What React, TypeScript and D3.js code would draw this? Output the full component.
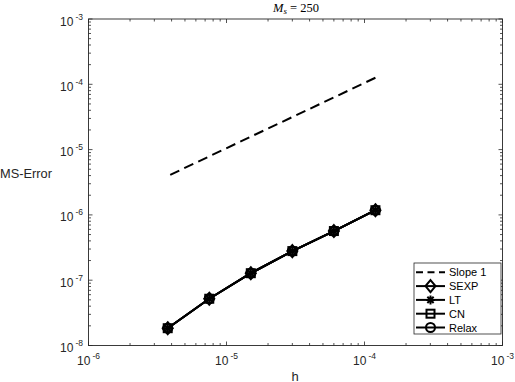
import React from 'react'
import * as d3 from 'd3'

// step sizes and errors
const hValues = [3.75e-6, 7.5e-6, 1.5e-5, 3.0e-5, 6.0e-5, 1.2e-4]
const slopeRef = [3.94e-6, 7.88e-6, 1.58e-5, 3.15e-5, 6.3e-5, 1.26e-4]
const errSEXP = [1.84e-8, 5.2e-8, 1.28e-7, 2.79e-7, 5.66e-7, 1.18e-6]
const errLT = [1.84e-8, 5.2e-8, 1.28e-7, 2.79e-7, 5.66e-7, 1.18e-6]
const errCN = [1.84e-8, 5.2e-8, 1.28e-7, 2.79e-7, 5.66e-7, 1.18e-6]
const errRelax = [1.84e-8, 5.2e-8, 1.28e-7, 2.79e-7, 5.66e-7, 1.18e-6]
const xTickExp = [-6, -5, -4, -3]
const yTickExp = [-8, -7, -6, -5, -4, -3]
const legendLabels = ['Slope 1', 'SEXP', 'LT', 'CN', 'Relax']

const W = 515
const H = 382
const axColor = '#262626'
const font = 'Liberation Sans, Arial, Helvetica, sans-serif'

const Marker = ({ type, x, y }: { type: string; x: number; y: number }) => {
  const s = 5
  const st = { fill: 'none', stroke: '#000', strokeWidth: 2 }
  if (type === 'diamond')
    return <path d={`M${x},${y - s - 1}L${x + s},${y}L${x},${y + s + 1}L${x - s},${y}Z`} {...st} />
  if (type === 'square') return <rect x={x - 4} y={y - 4} width={8} height={8} {...st} />
  if (type === 'circle') return <circle cx={x} cy={y} r={4.5} {...st} />
  // asterisk
  const a = 4.5
  return (
    <path
      d={`M${x - a},${y}L${x + a},${y}M${x},${y - a}L${x},${y + a}M${x - a * 0.7},${y - a * 0.7}L${x + a * 0.7},${y + a * 0.7}M${x - a * 0.7},${y + a * 0.7}L${x + a * 0.7},${y - a * 0.7}`}
      {...st}
    />
  )
}

const App = () => {
  const left = 88.5
  const right = 502.5
  const top = 19
  const bottom = 345.5

  const x = d3.scaleLog().domain([1e-6, 1e-3]).range([left, right])
  const y = d3.scaleLog().domain([1e-8, 1e-3]).range([bottom, top])

  const line = d3
    .line<number>()
    .x((_, i) => x(hValues[i]))
    .y((d) => y(d))

  // slope line drawn from large h to small h so the dash pattern starts at the right
  const slopeLine = d3
    .line<number>()
    .x((_, i) => x(hValues[hValues.length - 1 - i]))
    .y((d) => y(d))

  const series = [
    { name: 'SEXP', data: errSEXP, marker: 'diamond' },
    { name: 'LT', data: errLT, marker: 'asterisk' },
    { name: 'CN', data: errCN, marker: 'square' },
    { name: 'Relax', data: errRelax, marker: 'circle' },
  ]

  const xMinor: number[] = []
  for (let e = -6; e < -3; e++) for (let k = 2; k <= 9; k++) xMinor.push(k * Math.pow(10, e))
  const yMinor: number[] = []
  for (let e = -8; e < -3; e++) for (let k = 2; k <= 9; k++) yMinor.push(k * Math.pow(10, e))

  const lgX = 414
  const lgY = 263
  const rowH = 13.8

  return (
    <svg width={W} height={H} style={{ position: 'absolute', left: 0, top: 0, background: '#fff' }}>
      <rect x={0} y={0} width={W} height={H} fill="#fff" />

      {/* ticks */}
      <g stroke={axColor} strokeWidth={0.8}>
        {xTickExp.map((e) => {
          const px = x(Math.pow(10, e))
          return (
            <g key={'xt' + e}>
              <line x1={px} x2={px} y1={bottom} y2={bottom - 4} />
              <line x1={px} x2={px} y1={top} y2={top + 4} />
            </g>
          )
        })}
        {xMinor.map((v, i) => (
          <g key={'xm' + i}>
            <line x1={x(v)} x2={x(v)} y1={bottom} y2={bottom - 2.5} />
            <line x1={x(v)} x2={x(v)} y1={top} y2={top + 2.5} />
          </g>
        ))}
        {yTickExp.map((e) => {
          const py = y(Math.pow(10, e))
          return (
            <g key={'yt' + e}>
              <line x1={left} x2={left + 4} y1={py} y2={py} />
              <line x1={right} x2={right - 4} y1={py} y2={py} />
            </g>
          )
        })}
        {yMinor.map((v, i) => (
          <g key={'ym' + i}>
            <line x1={left} x2={left + 2.5} y1={y(v)} y2={y(v)} />
            <line x1={right} x2={right - 2.5} y1={y(v)} y2={y(v)} />
          </g>
        ))}
      </g>

      {/* tick labels */}
      <g fill={axColor} fontFamily={font}>
        {xTickExp.map((e) => (
          <text key={'xl' + e} x={x(Math.pow(10, e))} y={365} textAnchor="middle" fontSize={12}>
            10
            <tspan dx={2} dy={-6} fontSize={8.5}>
              {e}
            </tspan>
          </text>
        ))}
        {yTickExp.map((e) => (
          <text key={'yl' + e} x={83} y={y(Math.pow(10, e)) + 6.5} textAnchor="end" fontSize={12}>
            10
            <tspan dx={2} dy={-6} fontSize={8.5}>
              {e}
            </tspan>
          </text>
        ))}
        <text x={295} y={380.5} textAnchor="middle" fontSize={13}>
          h
        </text>
        <text x={52} y={178.3} textAnchor="end" fontSize={12.8}>
          MS-Error
        </text>
      </g>

      {/* title */}
      <text x={296} y={11.5} textAnchor="middle" fontFamily="Liberation Serif, DejaVu Serif, serif" fontSize={12.5} fill="#000">
        <tspan fontStyle="italic">M</tspan>
        <tspan fontStyle="italic" fontSize={9} dy={2}>
          s
        </tspan>
        <tspan dy={-2}> = 250</tspan>
      </text>

      {/* slope reference */}
      <path
        d={slopeLine([...slopeRef].reverse()) || ''}
        fill="none"
        stroke="#000"
        strokeWidth={2}
        strokeDasharray="10,5.5"
      />

      {/* data */}
      {series.map((s) => (
        <g key={s.name}>
          <path d={line(s.data) || ''} fill="none" stroke="#000" strokeWidth={2} />
          {s.data.map((d, i) => (
            <Marker key={i} type={s.marker} x={x(hValues[i])} y={y(d)} />
          ))}
        </g>
      ))}

      {/* axes box */}
      <rect x={left} y={top} width={right - left} height={bottom - top} fill="none" stroke={axColor} strokeWidth={0.9} />

      {/* legend */}
      <rect x={lgX} y={lgY} width={87} height={71} fill="#fff" stroke={axColor} strokeWidth={0.8} />
      {legendLabels.map((lab, i) => {
        const cy = lgY + 9.3 + i * rowH
        const mk = ['', 'diamond', 'asterisk', 'square', 'circle'][i]
        return (
          <g key={lab}>
            <line
              x1={416}
              x2={445}
              y1={cy}
              y2={cy}
              stroke="#000"
              strokeWidth={2}
              strokeDasharray={i === 0 ? '7,4.5' : undefined}
            />
            {mk && <Marker type={mk} x={430.5} y={cy} />}
            <text x={449} y={cy + 4} fontFamily={font} fontSize={11} fill="#000">
              {lab}
            </text>
          </g>
        )
      })}
    </svg>
  )
}

export default App
